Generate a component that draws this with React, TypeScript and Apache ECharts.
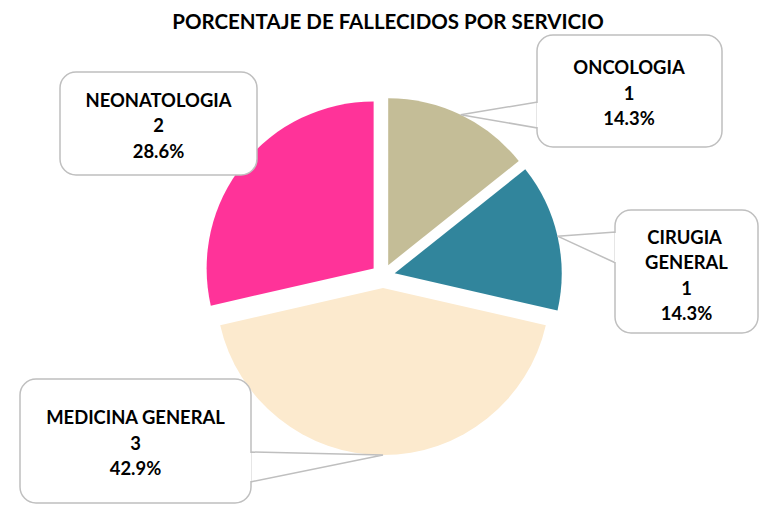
import React, { useEffect, useRef } from "react";
import * as echarts from "echarts";

const categories = ["ONCOLOGIA", "CIRUGIA GENERAL", "MEDICINA GENERAL", "NEONATOLOGIA"];
const values = [1, 1, 3, 2];
const colors = ["#C4BD97", "#31859C", "#FCEACE", "#FF3399"];
const titleText = "PORCENTAJE DE FALLECIDOS POR SERVICIO";

// pie geometry
const CX = 383;
const CY = 276;
const R = 167;
const OFFSET = 12;

// callout boxes: rect, text centre, wrap width, tail base (two points on box edge) or null
const boxes = [
  { x: 537, y: 35, w: 185, h: 112, tx: 629, ty: 92.5, tw: 180, base: [[537.75, 102], [537.75, 128]] },
  { x: 615, y: 210, w: 143, h: 123, tx: 686.5, ty: 275, tw: 100, base: [[615.75, 232], [615.75, 263]] },
  { x: 20, y: 379, w: 231, h: 124, tx: 135.5, ty: 442.5, tw: 228, base: [[250.25, 452], [250.25, 482]] },
  { x: 60, y: 72, w: 197, h: 103, tx: 158.5, ty: 125, tw: 190, base: null as null | number[][] },
];

export default function App() {
  const ref = useRef<HTMLDivElement>(null);
  useEffect(() => {
    if (!ref.current) return;
    const chart = echarts.init(ref.current, undefined, { renderer: "svg" });
    const total = values.reduce((a, b) => a + b, 0);
    const data = categories.map((name, i) => ({
      name,
      value: values[i],
      selected: true,
      itemStyle: { color: colors[i] },
    }));

    const graphics: any[] = [];
    let acc = 0;
    categories.forEach((name, i) => {
      const frac = values[i] / total;
      const mid = (acc + frac / 2) * Math.PI * 2;
      acc += frac;
      const b = boxes[i];
      const pct = (frac * 100).toFixed(1) + "%";
      const tip = [CX + (R + OFFSET) * Math.sin(mid), CY - (R + OFFSET) * Math.cos(mid)];
      if (b.base) {
        graphics.push({
          type: "polygon",
          z: 10,
          shape: { points: [b.base[0], tip, b.base[1]] },
          style: { fill: "#fff", stroke: "#BFBFBF", lineWidth: 1.5 },
        });
      }
      graphics.push({
        type: "rect",
        z: 11,
        shape: { x: b.x, y: b.y, width: b.w, height: b.h, r: 16 },
        style: { fill: "#fff", stroke: "#BFBFBF", lineWidth: 1.5 },
      });
      if (b.base) {
        graphics.push({
          type: "line",
          z: 12,
          shape: { x1: b.base[0][0], y1: b.base[0][1] + 1, x2: b.base[1][0], y2: b.base[1][1] - 1 },
          style: { stroke: "#fff", lineWidth: 2.5 },
        });
      }
      graphics.push({
        type: "text",
        z: 13,
        x: b.tx,
        y: b.ty,
        style: {
          text: `${name}\n${values[i]}\n${pct}`,
          width: b.tw,
          overflow: "break",
          align: "center",
          verticalAlign: "middle",
          fontFamily: "Lato",
          fontWeight: "bold",
          fontSize: 18.4,
          lineHeight: 25.5,
          fill: "#000",
        },
      });
    });

    chart.setOption({
      animation: false,
      title: {
        text: titleText,
        left: 383,
        top: 5,
        textAlign: "center",
        textStyle: { fontFamily: "Lato", fontWeight: "bold", fontSize: 20.5, color: "#000" },
      },
      series: [
        {
          type: "pie",
          center: [CX, CY],
          radius: R,
          startAngle: 90,
          clockwise: true,
          selectedMode: "multiple",
          selectedOffset: OFFSET,
          emphasis: { disabled: true },
          label: { show: false },
          labelLine: { show: false },
          data,
        },
      ],
      graphic: graphics,
    });
    return () => chart.dispose();
  }, []);
  return (
    <div
      ref={ref}
      style={{ position: "fixed", left: 0, top: 0, width: 782, height: 512, background: "#fff" }}
    />
  );
}
